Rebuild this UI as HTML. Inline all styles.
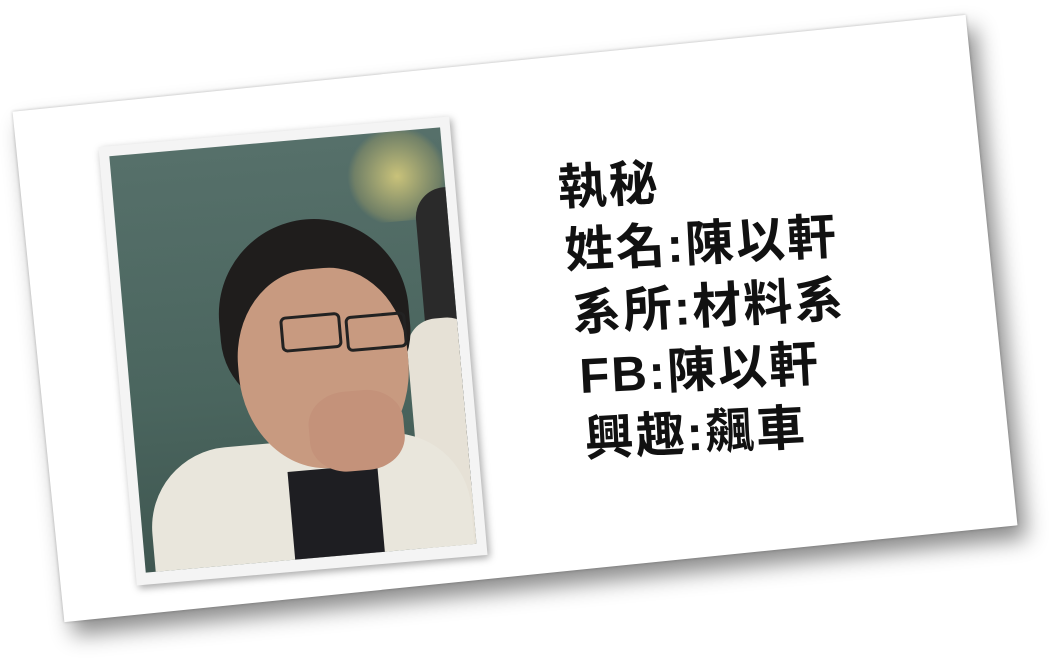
<!DOCTYPE html>
<html><head><meta charset="utf-8">
<style>
html,body{margin:0;padding:0;width:1054px;height:670px;overflow:hidden;background:#fff;}
.abs{position:absolute;}
#card{left:36px;top:62px;width:958px;height:513px;background:#fff;transform:rotate(-5.8deg);
 box-shadow:8px 14px 22px rgba(0,0,0,0.45), 0 0 3px rgba(0,0,0,0.25);}
#photo{left:117px;top:131px;width:352px;height:440px;background:#f4f4f4;transform:rotate(-5deg);
 box-shadow:2px 3px 8px rgba(0,0,0,0.35);}
#img{left:10px;top:10px;width:332px;height:418px;overflow:hidden;
 background:linear-gradient(180deg,#56706a 0%,#4a655e 60%,#3f5650 100%);}
#txt{left:556px;top:158px;transform:rotate(-3deg);transform-origin:0 0;
 font-family:"Liberation Sans","Noto Sans CJK TC",sans-serif;font-weight:bold;font-size:49px;letter-spacing:2px;line-height:63px;color:#111;white-space:nowrap;}
</style></head>
<body>
<div id="card" class="abs"></div>
<div id="photo" class="abs">
 <div id="img" class="abs">
  <div class="abs" style="left:230px;top:0;width:110px;height:90px;background:radial-gradient(circle,#c9c27a 0%,rgba(180,170,100,0.3) 60%,transparent 70%);"></div>
  <div class="abs" style="left:300px;top:60px;width:60px;height:300px;background:#2a2a2a;border-radius:30px;"></div>
  <div class="abs" style="left:280px;top:190px;width:70px;height:240px;background:#e6e1d6;border-radius:30px 30px 0 0;"></div>
  <div class="abs" style="left:10px;top:300px;width:320px;height:160px;background:#e9e6dc;border-radius:80px 80px 0 0;"></div>
  <div class="abs" style="left:150px;top:330px;width:90px;height:100px;background:#1e1e22;"></div>
  <div class="abs" style="left:95px;top:80px;width:190px;height:190px;background:#1f1d1c;border-radius:50% 50% 40% 40%;"></div>
  <div class="abs" style="left:110px;top:130px;width:170px;height:200px;background:#c89a80;border-radius:45% 45% 50% 50%;"></div>
  <div class="abs" style="left:155px;top:175px;width:55px;height:30px;border:3px solid #222;border-radius:6px;"></div>
  <div class="abs" style="left:220px;top:180px;width:55px;height:30px;border:3px solid #222;border-radius:6px;"></div>
  <div class="abs" style="left:175px;top:255px;width:95px;height:80px;background:#c4927a;border-radius:40%;"></div>
 </div>
</div>
<div id="txt" class="abs">
 <div>執秘</div>
 <div style="padding-left:4px">姓名:陳以軒</div>
 <div style="padding-left:8px">系所:材料系</div>
 <div style="padding-left:12px">FB:陳以軒</div>
 <div style="padding-left:14px">興趣:飆車</div>
</div>
</body></html>
